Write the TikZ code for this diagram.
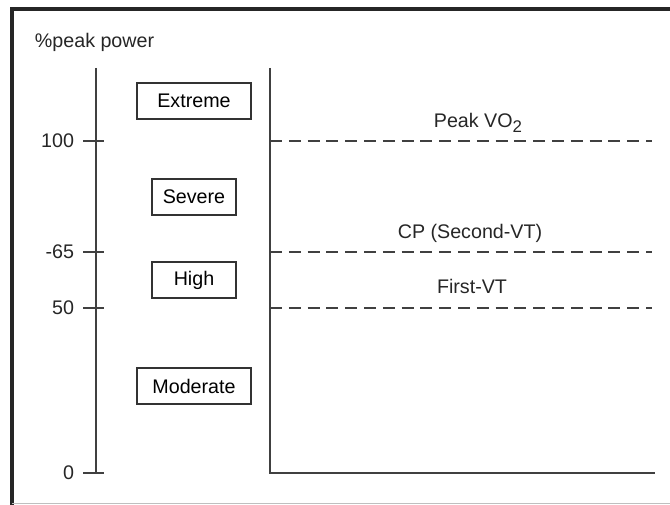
\documentclass[tikz,border=0pt]{standalone}
\usepackage{fontspec}
\setmainfont{Liberation Sans}
\usetikzlibrary{positioning}

\begin{document}
\begin{tikzpicture}[x=0.025cm, y=-0.025cm, line width=1.3pt,
  font=\fontsize{14}{16}\selectfont,
  axisline/.style={draw=black!75, line width=1.6pt},
  zone/.style={draw=black!80, line width=1.4pt, minimum height=0.92cm, inner sep=0pt},
  threshold/.style={draw=black!75, line width=1.5pt, dash pattern=on 0.3cm off 0.17cm},
  ticklabel/.style={anchor=east, inner sep=0pt, text=black!85}]

\useasboundingbox (0,0) rectangle (670,505);

% Frame
\draw[black!85, line width=2.2pt] (12,505) -- (12,9) -- (670,9);
\draw[black!25, line width=0.6pt] (12,503) -- (670,503);

% Axis title
\node[anchor=west, inner sep=0pt, text=black!85] (title) at (34,42) {\%peak power};

% Define axes
\coordinate (Ltop) at (96,68);
\coordinate (Lbot) at (96,473);
\coordinate (Rtop) at (270,68);
\coordinate (Rcorner) at (270,473);
\coordinate (Rend) at (655,473);

\draw[axisline] (Ltop) -- (Lbot);
\draw[axisline] (Rtop) -- (Rcorner) -- (Rend);

% Ticks and values
\foreach \val/\ypos in {100/141, -65/252, 50/308, 0/473} {
  \coordinate (tick\val) at (83,\ypos);
  \draw[axisline] (tick\val) -- ++(21,0);
  \node[ticklabel] (lab\val) at (75,\ypos) {\val};
}

% Intensity domains
\node[zone, minimum width=2.83cm] (extreme) at (194,101) {Extreme};
\node[zone, minimum width=2.12cm] (severe) at (194,197) {Severe};
\node[zone, minimum width=2.12cm] (high) at (194,280) {High};
\node[zone, minimum width=2.83cm] (moderate) at (194,386) {Moderate};

% Thresholds
\coordinate (peakA) at (270,141);
\coordinate (peakB) at (652,141);
\coordinate (cpA) at (270,252);
\coordinate (cpB) at (652,252);
\coordinate (vtA) at (270,308);
\coordinate (vtB) at (652,308);

\draw[threshold] (peakA) -- (peakB);
\draw[threshold] (cpA) -- (cpB);
\draw[threshold] (vtA) -- (vtB);

\node[text=black!85, inner sep=0pt] (peaklab) at (478,123) {Peak VO\raisebox{-0.45ex}{\fontsize{12}{13}\selectfont 2}};
\node[text=black!85, inner sep=0pt] (cplab) at (470,233) {CP (Second-VT)};
\node[text=black!85, inner sep=0pt] (vtlab) at (472,286) {First-VT};

\end{tikzpicture}
\end{document}
